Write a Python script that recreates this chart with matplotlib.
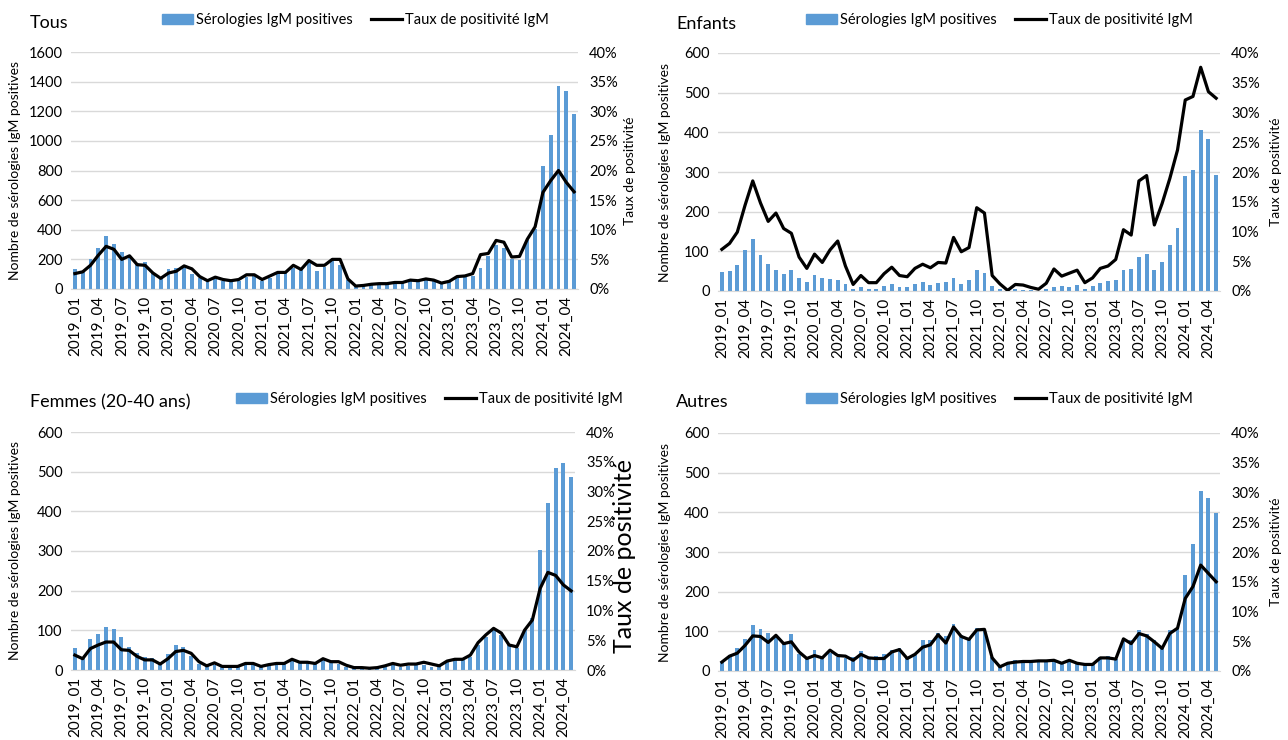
import matplotlib
matplotlib.use("Agg")
import matplotlib.pyplot as plt
from matplotlib.patches import Patch
from matplotlib.lines import Line2D
from matplotlib.ticker import FuncFormatter

plt.rcParams['font.family'] = ['Lato', 'DejaVu Sans']

# months 2019_01 .. 2024_05
mois = [f"{a}_{m:02d}" for a in range(2019, 2025) for m in range(1, 13)][:65]

tous_nb = [136, 120, 205, 276, 361, 304, 250, 223, 177, 184, 108, 74, 136, 143, 150, 104, 74, 46, 69, 51,
           51, 55, 80, 104, 51, 74, 108, 108, 143, 127, 177, 124, 150, 189, 163, 61, 20, 27, 32, 32,
           32, 39, 43, 55, 50, 61, 55, 39, 50, 73, 89, 89, 141, 225, 295, 277, 202, 198, 334, 402,
           830, 1040, 1370, 1340, 1180]
tous_taux = [2.6, 2.9, 4.0, 5.7, 7.2, 6.7, 5.0, 5.6, 4.1, 4.0, 2.7, 1.8, 2.7, 3.0, 3.9, 3.4, 2.1, 1.4, 2.0, 1.6,
             1.4, 1.6, 2.4, 2.4, 1.6, 2.2, 2.8, 2.8, 4.0, 3.3, 4.8, 4.0, 4.0, 5.0, 5.0, 1.7, 0.5, 0.6, 0.8, 0.9,
             0.9, 1.1, 1.1, 1.5, 1.4, 1.7, 1.5, 1.0, 1.3, 2.1, 2.2, 2.6, 5.8, 6.0, 8.2, 7.9, 5.4, 5.5, 8.4, 10.5,
             16.3, 18.3, 20.0, 18.0, 16.4]

enfants_nb = [47, 51, 65, 103, 131, 90, 67, 52, 42, 54, 32, 23, 40, 34, 29, 27, 17, 5, 9, 4,
              5, 12, 17, 10, 10, 17, 22, 15, 19, 23, 32, 17, 27, 52, 45, 13, 5, 1, 5, 3,
              2, 1, 5, 10, 12, 10, 16, 5, 12, 20, 24, 27, 52, 56, 86, 94, 52, 74, 117, 159,
              291, 305, 406, 382, 292]
enfants_taux = [7.0, 8.0, 9.9, 14.4, 18.5, 14.8, 11.7, 13.1, 10.5, 9.7, 5.7, 3.8, 6.2, 4.8, 6.9, 8.4, 4.2, 1.1, 2.6, 1.4,
                1.4, 2.9, 4.0, 2.6, 2.4, 3.8, 4.5, 3.9, 4.8, 4.7, 9.0, 6.6, 7.3, 14.0, 13.1, 2.6, 1.2, 0.1, 1.1, 1.0,
                0.6, 0.3, 1.3, 3.7, 2.5, 3.0, 3.5, 1.4, 2.2, 3.8, 4.2, 5.3, 10.3, 9.4, 18.5, 19.4, 11.1, 14.7, 18.9, 23.7,
                32.1, 32.7, 37.6, 33.5, 32.4]

femmes_nb = [56, 33, 78, 90, 108, 103, 83, 58, 42, 33, 31, 17, 40, 64, 58, 35, 15, 10, 12, 8,
             8, 8, 15, 17, 8, 12, 15, 14, 25, 17, 17, 15, 27, 18, 15, 8, 6, 5, 5, 6,
             10, 13, 8, 10, 14, 13, 8, 13, 21, 24, 24, 34, 63, 84, 101, 88, 63, 55, 101, 130,
             303, 420, 508, 521, 487]
femmes_taux = [2.5, 1.9, 3.6, 4.2, 4.7, 4.7, 3.4, 3.3, 2.3, 1.7, 1.7, 1.0, 1.9, 3.1, 3.3, 2.8, 1.4, 0.7, 1.2, 0.6,
               0.6, 0.6, 1.1, 1.1, 0.6, 0.9, 1.1, 1.1, 1.8, 1.3, 1.3, 1.1, 1.9, 1.4, 1.4, 0.8, 0.4, 0.4, 0.3, 0.4,
               0.7, 1.1, 0.8, 1.0, 1.0, 1.3, 1.0, 0.7, 1.5, 1.8, 1.8, 2.5, 4.6, 5.9, 7.0, 6.2, 4.2, 3.9, 6.7, 8.4,
               13.7, 16.4, 15.9, 14.3, 13.3]

autres_nb = [23, 40, 57, 80, 117, 106, 95, 85, 74, 94, 44, 31, 54, 34, 46, 36, 34, 36, 51, 36,
             37, 44, 53, 57, 34, 40, 78, 78, 95, 87, 119, 91, 80, 108, 103, 35, 10, 19, 27, 23,
             24, 27, 27, 23, 19, 23, 19, 14, 17, 35, 37, 31, 84, 78, 103, 93, 79, 61, 103, 111,
             242, 320, 455, 435, 398]
autres_taux = [1.5, 2.5, 3.0, 4.3, 5.9, 5.8, 4.8, 6.0, 4.6, 4.9, 3.2, 2.1, 2.6, 2.2, 3.5, 2.6, 2.5, 1.8, 2.8, 2.2,
               2.1, 2.1, 3.2, 3.6, 2.1, 2.8, 4.0, 4.4, 6.1, 4.7, 7.4, 5.8, 5.3, 6.9, 7.0, 2.2, 0.7, 1.3, 1.5, 1.6,
               1.6, 1.7, 1.7, 1.8, 1.3, 1.8, 1.3, 1.1, 1.1, 2.2, 2.2, 2.0, 5.4, 4.6, 6.3, 5.9, 4.9, 3.8, 6.3, 7.2,
               12.2, 14.2, 17.8, 16.4, 15.0]

BLEU = '#5B9BD5'
GRIS = '#D9D9D9'
W, H = 1288, 740

fig = plt.figure(figsize=(W / 100, H / 100), dpi=100)


def fx(x):
    return x / W


def fy(y):
    return 1 - y / H


def panneau(titre, nb, taux, box, ymax, ystep, titre_xy, leg_xy, ylab_x, ylab2_x, big_ylab2=False):
    x0, y0, x1, y1 = box
    ax = fig.add_axes([fx(x0), fy(y1), (x1 - x0) / W, (y1 - y0) / H])
    ax2 = ax.twinx()
    pos = range(len(mois))
    ax.bar(pos, nb, width=0.5, color=BLEU, zorder=2)
    ax2.plot(pos, taux, color='black', lw=2.3, solid_joinstyle='round', zorder=3)

    ax.set_xlim(-0.5, len(mois) - 0.5)
    ax.set_ylim(0, ymax)
    ax.set_yticks(range(0, ymax + 1, ystep))
    ax2.set_ylim(0, 40)
    ax2.set_yticks(range(0, 41, 5))
    ax2.yaxis.set_major_formatter(FuncFormatter(lambda v, p: f"{v:.0f}%"))
    ax.set_xticks(list(pos)[::3])
    ax.set_xticklabels(mois[::3], rotation=90)
    ax.yaxis.grid(True, color=GRIS, lw=1, zorder=0)
    ax.set_axisbelow(True)
    for a in (ax, ax2):
        for s in a.spines.values():
            s.set_visible(False)
        a.tick_params(length=0, labelsize=10.5, colors='black')
    ax.tick_params(axis='x', labelsize=11, pad=5)
    ax.spines['bottom'].set_visible(True)
    ax.spines['bottom'].set_color(GRIS)
    ax.tick_params(axis='y', pad=6)
    ax2.tick_params(axis='y', pad=8)

    fig.text(fx(titre_xy[0]), fy(titre_xy[1]), titre, fontsize=13, va='center', ha='left')
    handles = [Patch(color=BLEU, label='Sérologies IgM positives'),
               Line2D([], [], color='black', lw=2.3, label='Taux de positivité IgM')]
    fig.legend(handles=handles, loc='center left', bbox_to_anchor=(fx(leg_xy[0]), fy(leg_xy[1])),
               ncol=2, frameon=False, fontsize=10.5, handlelength=2.1, handleheight=0.7,
               handletextpad=0.2, columnspacing=1.3, borderpad=0, borderaxespad=0)
    fig.text(fx(ylab_x), fy((y0 + y1) / 2), 'Nombre de sérologies IgM positives', rotation=90,
             fontsize=10, va='center', ha='center')
    if big_ylab2:
        fig.text(fx(ylab2_x), fy(556), 'Taux de positivité', rotation=90,
                 fontsize=18, va='center', ha='center')
    else:
        fig.text(fx(ylab2_x), fy((y0 + y1) / 2), 'Taux de positivité', rotation=90,
                 fontsize=10, va='center', ha='center')


panneau('Tous', tous_nb, tous_taux, (71, 52, 578, 289), 1600, 200, (30, 23), (162, 20), 15, 630)
panneau('Enfants', enfants_nb, enfants_taux, (718, 53, 1220, 291), 600, 100, (676, 24), (806, 20), 665, 1276)
panneau('Femmes (20-40 ans)', femmes_nb, femmes_taux, (71, 432, 575, 670), 600, 100, (30, 402), (236, 399), 15, 625,
        big_ylab2=True)
panneau('Autres', autres_nb, autres_taux, (718, 433, 1220, 671), 600, 100, (676, 402), (806, 399), 665, 1276)

fig.savefig('out.png', dpi=100)
